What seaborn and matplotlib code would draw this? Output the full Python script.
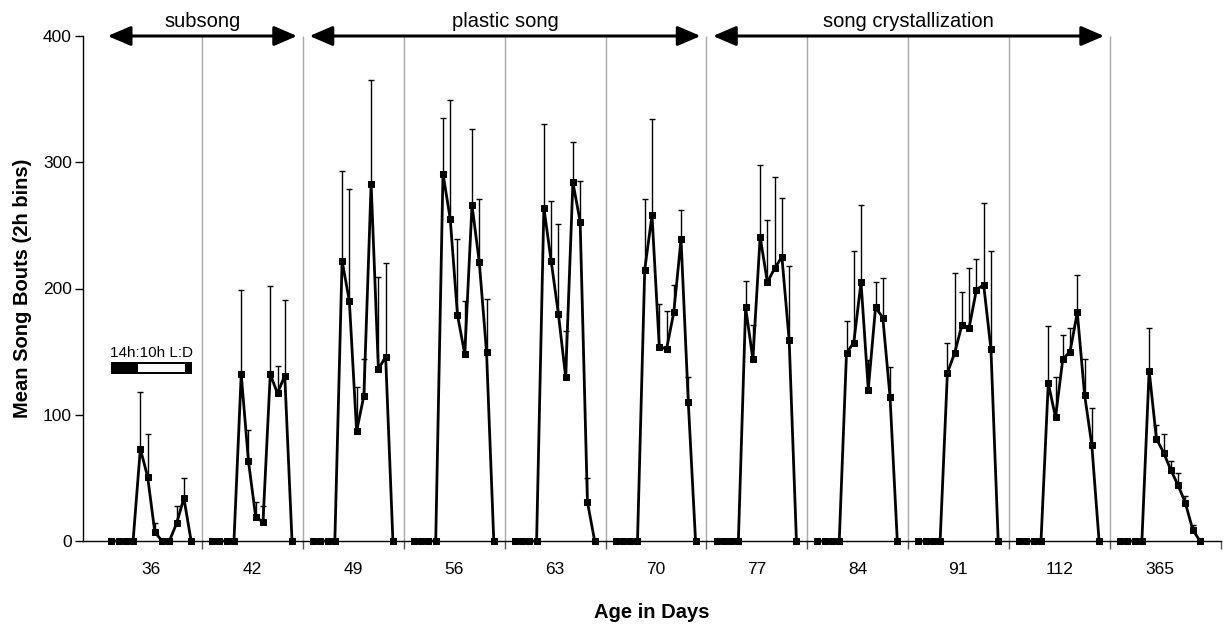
import numpy as np
import pandas as pd
import matplotlib
matplotlib.use("Agg")
import matplotlib.pyplot as plt
import seaborn as sns
from matplotlib.patches import Rectangle

# ages (days) and 12 two-hour bins per day
ages = ["36", "42", "49", "56", "63", "70", "77", "84", "91", "112", "365"]

bouts_36 = [0, 0, 0, 0, 73, 51, 7, 0, 0, 14, 34, 0]
bouts_42 = [0, 0, 0, 0, 132, 63, 19, 15, 132, 117, 131, 0]
bouts_49 = [0, 0, 0, 0, 222, 190, 87, 115, 283, 136, 146, 0]
bouts_56 = [0, 0, 0, 0, 291, 255, 179, 148, 266, 221, 150, 0]
bouts_63 = [0, 0, 0, 0, 264, 222, 180, 130, 284, 253, 31, 0]
bouts_70 = [0, 0, 0, 0, 215, 258, 154, 152, 181, 239, 110, 0]
bouts_77 = [0, 0, 0, 0, 185, 144, 241, 205, 216, 225, 159, 0]
bouts_84 = [0, 0, 0, 0, 149, 157, 205, 120, 185, 177, 114, 0]
bouts_91 = [0, 0, 0, 0, 133, 149, 171, 169, 199, 203, 152, 0]
bouts_112 = [0, 0, 0, 0, 125, 98, 144, 150, 181, 116, 76, 0]
bouts_365 = [0, 0, 0, 0, 135, 81, 70, 56, 44, 30, 9, 0]

sem_36 = [0, 0, 0, 0, 45, 34, 7, 0, 0, 14, 16, 0]
sem_42 = [0, 0, 0, 0, 67, 25, 12, 13, 70, 22, 60, 0]
sem_49 = [0, 0, 0, 0, 71, 89, 35, 29, 82, 73, 74, 0]
sem_56 = [0, 0, 0, 0, 44, 94, 60, 42, 60, 50, 42, 0]
sem_63 = [0, 0, 0, 0, 66, 47, 71, 36, 32, 32, 19, 0]
sem_70 = [0, 0, 0, 0, 56, 76, 34, 30, 22, 23, 20, 0]
sem_77 = [0, 0, 0, 0, 21, 27, 57, 49, 72, 47, 59, 0]
sem_84 = [0, 0, 0, 0, 25, 73, 61, 23, 20, 31, 24, 0]
sem_91 = [0, 0, 0, 0, 24, 63, 26, 47, 24, 65, 78, 0]
sem_112 = [0, 0, 0, 0, 45, 32, 19, 19, 30, 28, 29, 0]
sem_365 = [0, 0, 0, 0, 34, 11, 15, 7, 10, 6, 4, 0]

# developmental phases: label, first panel, last panel
phases = [("subsong", 0, 1), ("plastic song", 2, 5), ("song crystallization", 6, 9)]

all_bouts = [bouts_36, bouts_42, bouts_49, bouts_56, bouts_63, bouts_70,
             bouts_77, bouts_84, bouts_91, bouts_112, bouts_365]
all_sem = [sem_36, sem_42, sem_49, sem_56, sem_63, sem_70,
           sem_77, sem_84, sem_91, sem_112, sem_365]

panel_w = 13.9
offset = 1.4

rows = []
for p, age in enumerate(ages):
    for b in range(12):
        rows.append({"age": age, "bin": b, "x": p * panel_w + offset + b,
                     "bouts": all_bouts[p][b], "sem": all_sem[p][b]})
df = pd.DataFrame(rows)

sns.set_style("white")
plt.rcParams["font.family"] = ["Liberation Sans", "DejaVu Sans"]
plt.rcParams["text.color"] = "black"
plt.rcParams["axes.labelcolor"] = "black"
plt.rcParams["xtick.color"] = "black"
plt.rcParams["ytick.color"] = "black"

fig = plt.figure(figsize=(12.27, 6.25), dpi=100)
ax = fig.add_axes([83 / 1227, 1 - 541 / 625, 1138 / 1227, 505 / 625])

# panel separators
bounds = [p * panel_w for p in range(1, len(ages))]
ax.vlines(bounds, 0, 400, colors="#a8a8a8", lw=1, zorder=0)

# upper error bars only
err = df[df["sem"] > 0]
ax.errorbar(err["x"], err["bouts"], yerr=[np.zeros(len(err)), err["sem"]],
            fmt="none", ecolor="black", elinewidth=1, capsize=2, capthick=1, zorder=1)

sns.lineplot(data=df, x="x", y="bouts", units="age", estimator=None, sort=False,
             color="black", lw=2, marker="s", markersize=4.5, markeredgecolor="black",
             ax=ax, legend=False)
for ln in ax.lines:
    ln.set_clip_on(False)

x_max = (len(ages) - 1) * panel_w + 15.3
ax.set_xlim(-2.5, x_max)
ax.set_ylim(0, 400)

ax.set_yticks([0, 100, 200, 300, 400])
ax.tick_params(axis="y", direction="out", length=6, width=1, colors="black",
               labelsize=12.5, pad=2, left=True)

ax.set_xticks(bounds + [x_max])
ax.set_xticklabels([])
ax.set_xticks([p * panel_w + 6.9 for p in range(len(ages))], minor=True)
ax.set_xticklabels(ages, minor=True)
ax.tick_params(axis="x", which="major", direction="out", length=6, width=1,
               color="#555555", bottom=True)
ax.tick_params(axis="x", which="minor", length=0, labelsize=12.5, pad=15,
               labelcolor="black")

for s in ["top", "right"]:
    ax.spines[s].set_visible(False)
for s in ["left", "bottom"]:
    ax.spines[s].set_color("black")
    ax.spines[s].set_linewidth(1)

ax.set_xlabel("Age in Days", fontsize=14.5, fontweight="bold", va="center")
ax.xaxis.set_label_coords(0.5, (541 - 612) / 505)
ax.set_ylabel("Mean Song Bouts (2h bins)", fontsize=14.5, fontweight="bold",
              ha="center", va="center")
ax.yaxis.set_label_coords((22 - 83) / 1138, 0.5)

# phase arrows
for label, p0, p1 in phases:
    x0 = p0 * panel_w + 0.9
    x1 = (p1 + 1) * panel_w - 0.8
    ax.annotate("", xy=(x1, 400), xytext=(x0, 400), annotation_clip=False,
                arrowprops=dict(arrowstyle="<|-|>,head_length=0.7,head_width=0.3",
                                mutation_scale=20, lw=2.2, color="black",
                                shrinkA=0, shrinkB=0))
    ax.text((x0 + x1) / 2, 404, label, ha="center", va="bottom", fontsize=14.5,
            clip_on=False)

# light:dark bar
bar_x0 = offset
bar_len = 11.1
ax.add_patch(Rectangle((bar_x0, 132.3), bar_len, 9.5, facecolor="black",
                       edgecolor="none", clip_on=False, zorder=3))
ax.add_patch(Rectangle((bar_x0 + bar_len * 8 / 24, 134.0), bar_len * 14 / 24, 6.1,
                       facecolor="white", edgecolor="none", clip_on=False, zorder=4))
ax.text(bar_x0 + bar_len / 2, 149.3, "14h:10h L:D", ha="center", va="center",
        fontsize=11)

fig.savefig("out.png", dpi=100)
